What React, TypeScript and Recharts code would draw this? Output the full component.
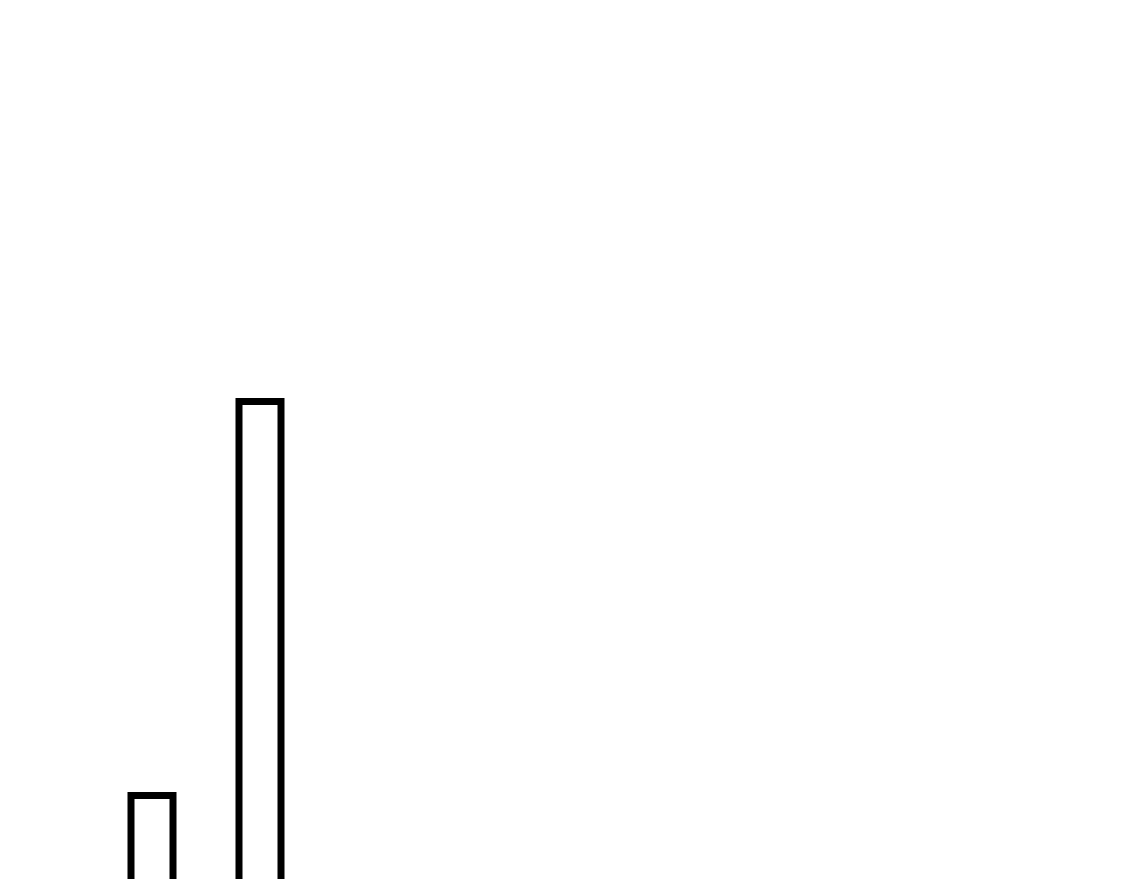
import { BarChart, Bar, XAxis, YAxis } from "recharts";

const categorias = ["A", "B"];
const valores = [1, 3];

const dados = categorias.map((c, i) => ({ categoria: c, valor: valores[i] }));

export default function App() {
  return (
    <div style={{ width: 1109, height: 871, overflow: "hidden", background: "#fff" }}>
      <BarChart
        width={306}
        height={1000}
        data={dados}
        margin={{ top: 393.5, right: 0, bottom: 15.5, left: 90 }}
        barCategoryGap={0}
      >
        <XAxis dataKey="categoria" hide />
        <YAxis hide domain={[0, 3]} />
        <Bar
          dataKey="valor"
          barSize={42}
          fill="#ffffff"
          stroke="#000000"
          strokeWidth={7}
          isAnimationActive={false}
        />
      </BarChart>
    </div>
  );
}
